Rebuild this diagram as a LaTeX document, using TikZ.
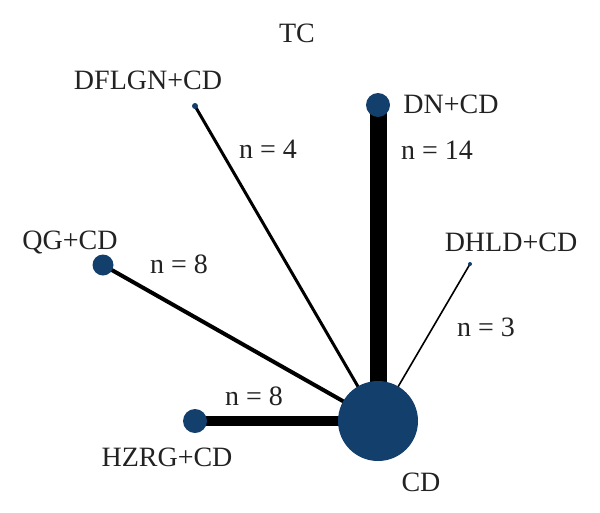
\documentclass[tikz,border=0pt]{standalone}
\usepackage{fontspec}
\setmainfont{Liberation Serif}
\definecolor{nodeblue}{HTML}{123F6B}
\definecolor{txt}{HTML}{222222}
\tikzset{
  trt/.style={circle,fill=nodeblue,inner sep=0pt,minimum size=#1},
  lbl/.style={text=txt,font=\fontsize{28}{32}\selectfont,inner sep=0pt},
  edge/.style={draw=black,line width=#1},
}
\begin{document}
\begin{tikzpicture}[x=1pt,y=-1pt]
\useasboundingbox (0,0) rectangle (600,512);
\coordinate (cCD) at (378,421);
\coordinate (cDN) at (378,105);
\coordinate (cDF) at (195,106);
\coordinate (cQG) at (103,265);
\coordinate (cDH) at (470,264);
\coordinate (cHZ) at (195,421);
\draw[edge=17pt] (cDN) -- (cCD);
\draw[edge=10pt] (cHZ) -- (cCD);
\draw[edge=4pt] (cQG) -- (cCD);
\draw[edge=3pt] (cDF) -- (cCD);
\draw[edge=1.6pt] (cDH) -- (cCD);
\node[trt=80pt] (CD) at (cCD) {};
\node[trt=24pt] (DN) at (cDN) {};
\node[trt=6pt] (DF) at (cDF) {};
\node[trt=21pt] (QG) at (cQG) {};
\node[trt=4pt] (DH) at (cDH) {};
\node[trt=24pt] (HZ) at (cHZ) {};
\node[lbl] (tTC) at (297,33) {TC};
\node[lbl] (tDF) at (148,80) {DFLGN+CD};
\node[lbl] (tDN) at (451,104) {DN+CD};
\node[lbl] (tDH) at (511,242) {DHLD+CD};
\node[lbl] (tQG) at (70,242) {QG+CD};
\node[lbl] (tHZ) at (167,457) {HZRG+CD};
\node[lbl] (tCD) at (421,482) {CD};
\node[lbl] (n1) at (268,149) {n = 4};
\node[lbl] (n2) at (437,150) {n = 14};
\node[lbl] (n3) at (179,264) {n = 8};
\node[lbl] (n4) at (486,327) {n = 3};
\node[lbl] (n5) at (254,396) {n = 8};
\end{tikzpicture}
\end{document}
